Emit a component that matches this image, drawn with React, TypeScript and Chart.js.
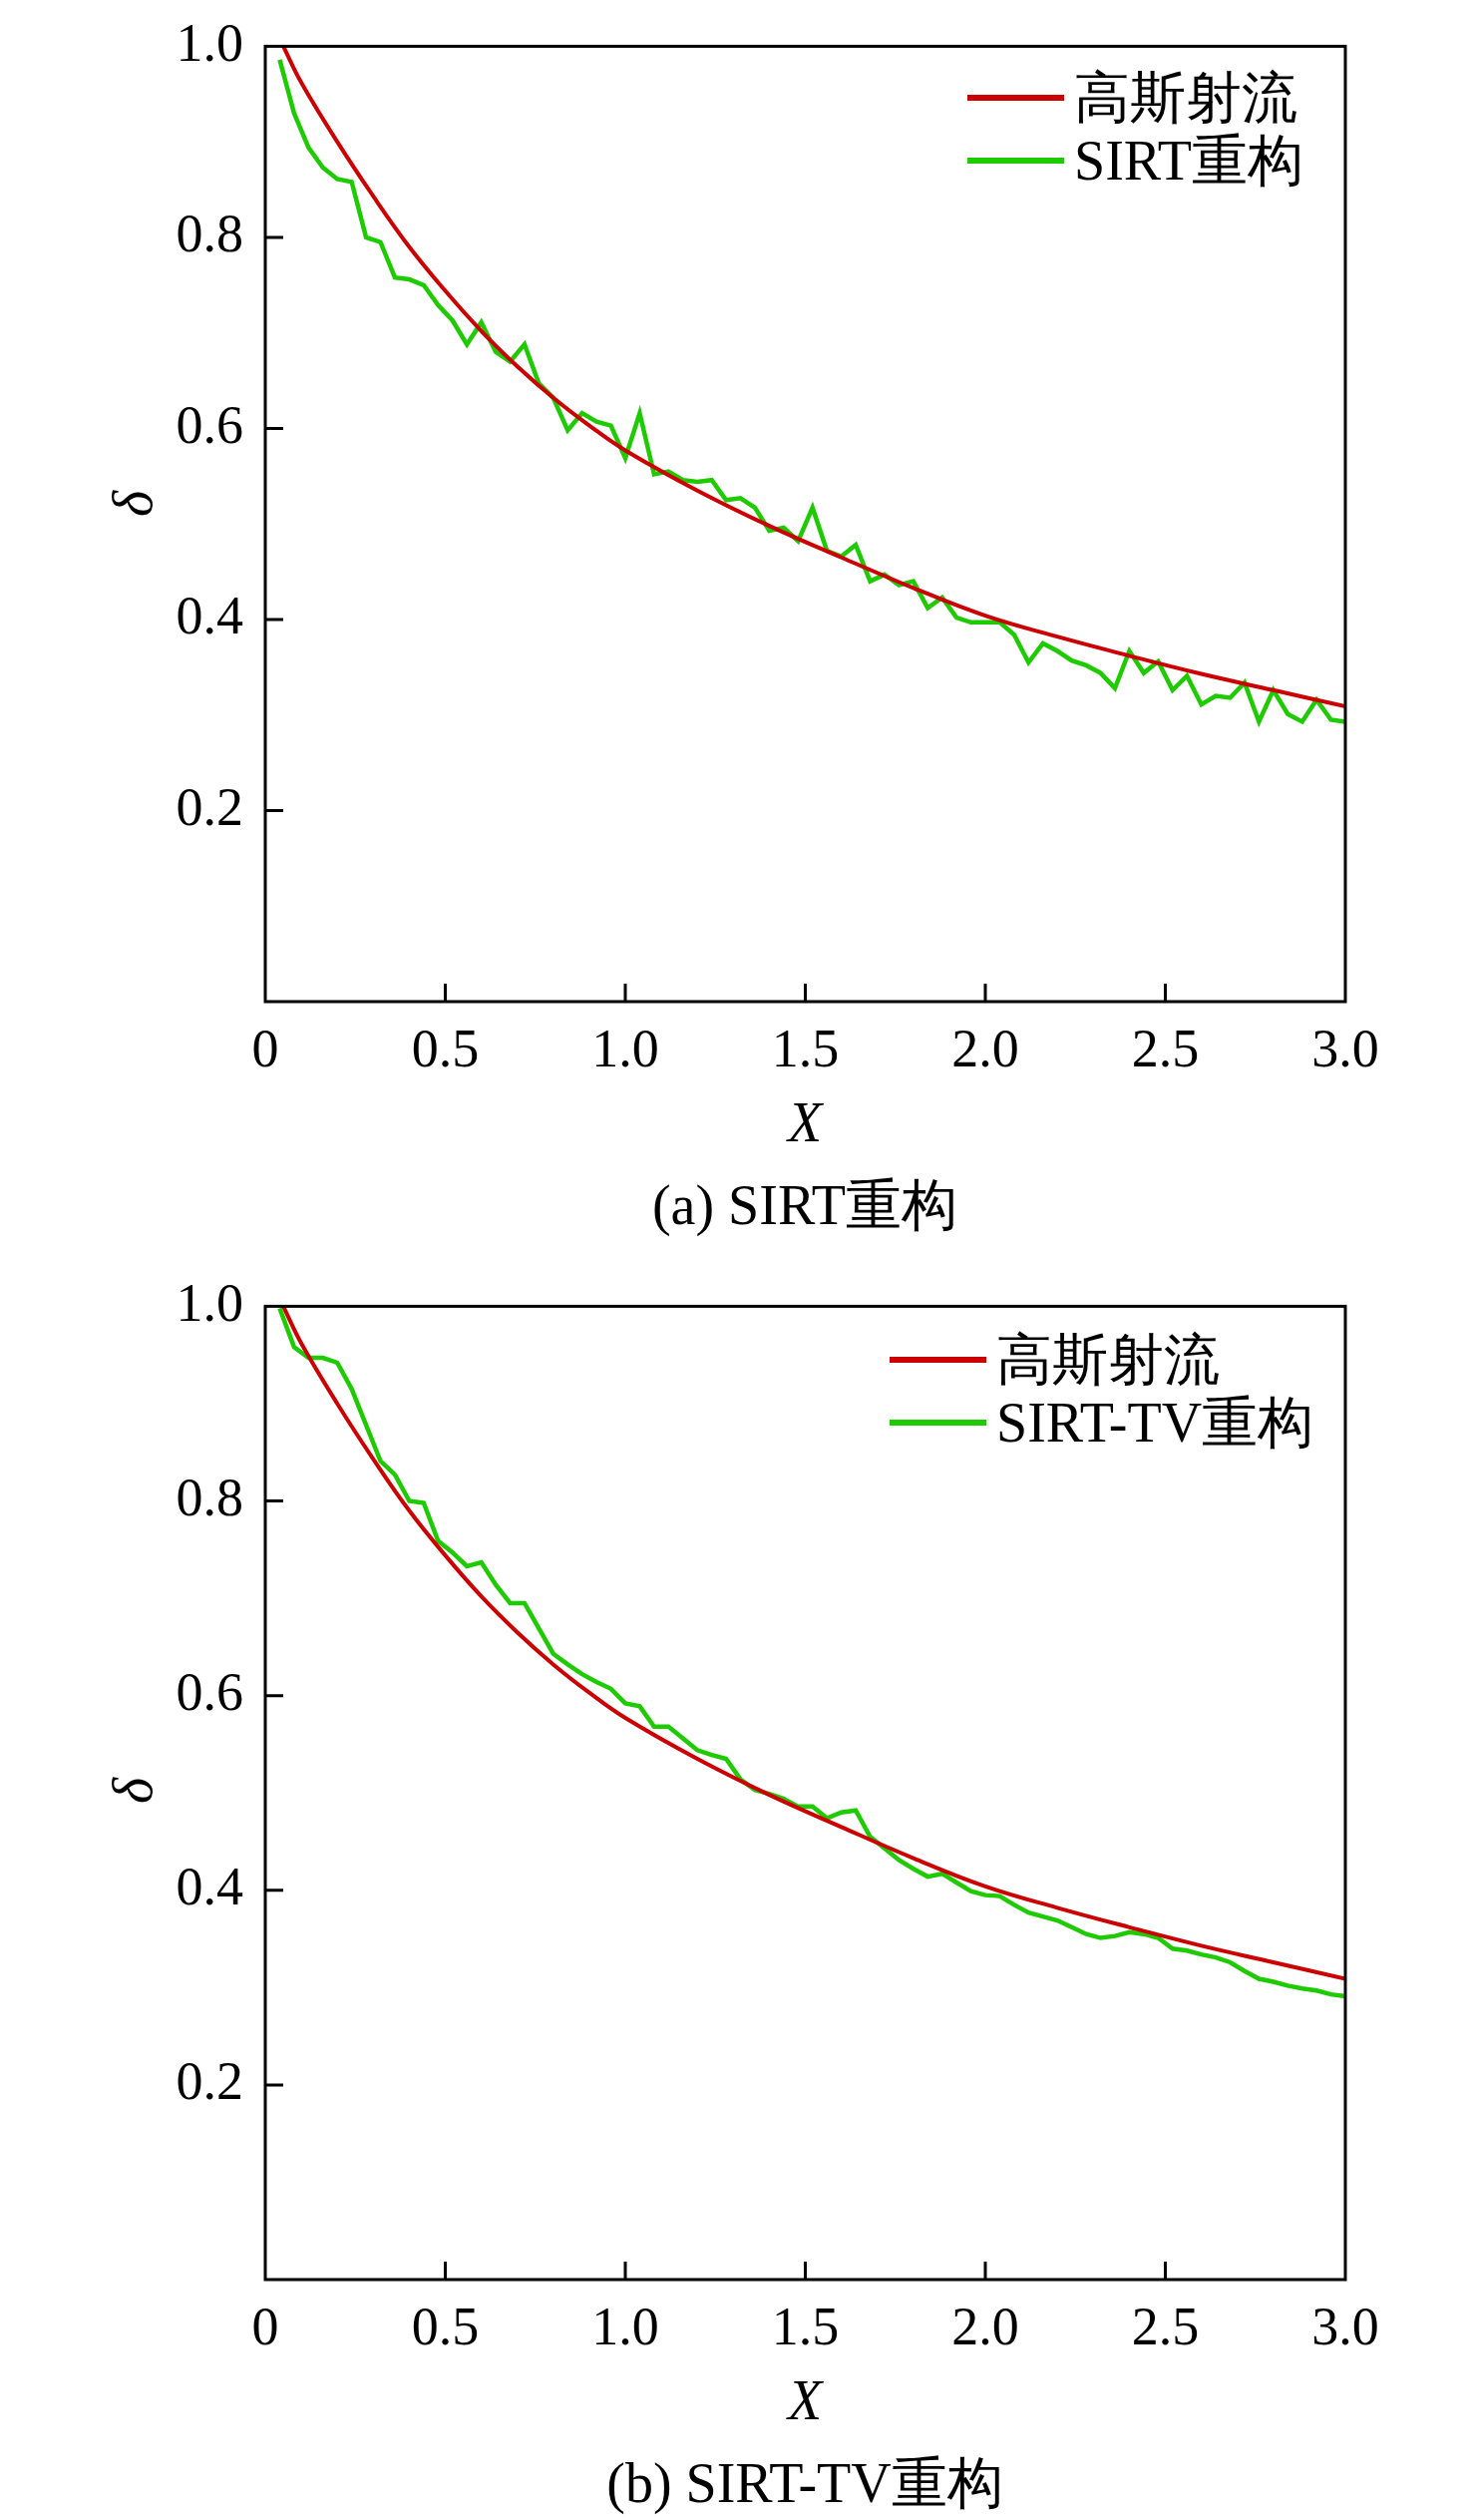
import React, { useEffect, useRef } from "react";
import { Chart, registerables } from "chart.js";
Chart.register(...registerables);

const X_GREEN = [0.04,0.08,0.12,0.16,0.2,0.24,0.28,0.32,0.36,0.4,0.44,0.48,0.52,0.56,0.6,0.64,0.68,0.72,0.76,0.8,0.84,0.88,0.92,0.96,1.0,1.04,1.08,1.12,1.16,1.2,1.24,1.28,1.32,1.36,1.4,1.44,1.48,1.52,1.56,1.6,1.64,1.68,1.72,1.76,1.8,1.84,1.88,1.92,1.96,2.0,2.04,2.08,2.12,2.16,2.2,2.24,2.28,2.32,2.36,2.4,2.44,2.48,2.52,2.56,2.6,2.64,2.68,2.72,2.76,2.8,2.84,2.88,2.92,2.96,3.0];
const SIRT = [0.986,0.93,0.894,0.873,0.861,0.858,0.8,0.795,0.758,0.756,0.75,0.729,0.713,0.688,0.711,0.68,0.67,0.688,0.647,0.632,0.598,0.616,0.607,0.603,0.569,0.616,0.552,0.555,0.546,0.544,0.546,0.525,0.527,0.517,0.493,0.496,0.482,0.517,0.472,0.466,0.478,0.44,0.447,0.436,0.44,0.412,0.423,0.402,0.397,0.397,0.397,0.384,0.355,0.375,0.367,0.357,0.352,0.344,0.328,0.367,0.344,0.356,0.326,0.341,0.311,0.32,0.318,0.334,0.293,0.326,0.301,0.293,0.316,0.295,0.293];
const SIRT_TV = [0.998,0.958,0.947,0.947,0.942,0.915,0.878,0.841,0.827,0.8,0.798,0.759,0.747,0.733,0.737,0.714,0.695,0.695,0.669,0.643,0.632,0.622,0.614,0.607,0.592,0.589,0.568,0.568,0.556,0.544,0.539,0.535,0.514,0.503,0.499,0.494,0.486,0.486,0.474,0.48,0.482,0.455,0.443,0.431,0.422,0.414,0.417,0.408,0.399,0.395,0.394,0.385,0.377,0.373,0.369,0.362,0.355,0.351,0.353,0.357,0.355,0.351,0.34,0.338,0.334,0.331,0.326,0.317,0.309,0.306,0.302,0.299,0.297,0.293,0.291];
const X_GAUSS = [0.05,0.1,0.2,0.3,0.4,0.5,0.6,0.7,0.8,0.9,1.0,1.2,1.4,1.6,1.8,2.0,2.2,2.4,2.6,2.8,3.0];
const GAUSS = [1.0,0.962,0.9,0.843,0.79,0.744,0.702,0.665,0.632,0.603,0.577,0.535,0.498,0.465,0.433,0.404,0.382,0.362,0.343,0.326,0.309];
const X_TICKS = [0, 0.5, 1.0, 1.5, 2.0, 2.5, 3.0];
const Y_TICKS = [0, 0.2, 0.4, 0.6, 0.8, 1.0];

const FONT = "'Liberation Serif', 'Times New Roman', serif";
const RED = "#cc0000";
const GREEN = "#1ecb00";

const frame = {
  id: "frame",
  afterDraw(chart: any) {
    const { ctx, chartArea: a, scales } = chart;
    ctx.save();
    ctx.strokeStyle = "#000";
    ctx.lineWidth = 3;
    ctx.strokeRect(a.left, a.top, a.right - a.left, a.bottom - a.top);
    ctx.beginPath();
    for (const v of X_TICKS) {
      if (v <= 0 || v >= 3) continue;
      const px = scales.x.getPixelForValue(v);
      ctx.moveTo(px, a.bottom);
      ctx.lineTo(px, a.bottom - 18);
    }
    for (const v of Y_TICKS) {
      if (v <= 0 || v >= 1) continue;
      const py = scales.y.getPixelForValue(v);
      ctx.moveTo(a.left, py);
      ctx.lineTo(a.left + 18, py);
    }
    ctx.stroke();
    ctx.restore();
  },
};

function Panel({ green, greenLabel, top, legendTop, caption }: { green: number[]; greenLabel: string; top: number; legendTop: number; caption: string }) {
  const ref = useRef<HTMLCanvasElement>(null);
  useEffect(() => {
    const chart = new Chart(ref.current!, {
      type: "line",
      data: {
        datasets: [
          { label: "高斯射流", data: X_GAUSS.map((x, i) => ({ x, y: GAUSS[i] })), borderColor: RED, borderWidth: 4, pointRadius: 0, tension: 0.4 },
          { label: greenLabel, data: X_GREEN.map((x, i) => ({ x, y: green[i] })), borderColor: GREEN, borderWidth: 4.5, pointRadius: 0, tension: 0 },
        ],
      },
      options: {
        animation: false,
        responsive: false,
        layout: { padding: { top, right: 127, left: 0, bottom: 0 } },
        plugins: { legend: { display: false }, tooltip: { enabled: false } },
        scales: {
          x: {
            type: "linear", min: 0, max: 3,
            afterBuildTicks: (s: any) => { s.ticks = X_TICKS.map((value) => ({ value })); },
            afterFit: (s: any) => { s.height = 1263 - 1004 - (top === 42 ? 18 : 0); },
            grid: { display: false },
            border: { display: false },
            ticks: { color: "#000", font: { family: FONT, size: 54 }, padding: 10, maxRotation: 0, callback: (v: any) => (v === 0 ? "0" : Number(v).toFixed(1)) },
          },
          y: {
            type: "linear", min: 0, max: 1,
            afterBuildTicks: (s: any) => { s.ticks = Y_TICKS.map((value) => ({ value })); },
            afterFit: (s: any) => { s.width = 266; },
            grid: { display: false },
            border: { display: false },
            ticks: { color: "#000", font: { family: FONT, size: 54 }, padding: 14, callback: (v: any) => (v === 0 ? "" : Number(v).toFixed(1)) },
          },
        },
      },
      plugins: [frame],
    });
    return () => chart.destroy();
  }, []);
  const plotBottom = top === 42 ? 1022 : 1004;
  const plotTop = top;
  const legX = greenLabel.length > 6 ? 892 : 970;
  const txt: React.CSSProperties = { position: "absolute", fontFamily: FONT, color: "#000", whiteSpace: "nowrap", lineHeight: 1 };
  return (
    <div style={{ position: "relative", width: 1476, height: 1263 }}>
      <canvas ref={ref} width={1476} height={1263} style={{ width: 1476, height: 1263, display: "block" }} />
      {[{ c: RED, t: "高斯射流", y: legendTop }, { c: GREEN, t: greenLabel, y: legendTop + 63 }].map((l, i) => (
        <div key={i} style={{ position: "absolute", left: legX, top: l.y - 30, height: 60, display: "flex", alignItems: "center" }}>
          <div style={{ width: 97, height: 6, background: l.c, marginRight: 10 }} />
          <span style={{ fontFamily: FONT, fontSize: 56, lineHeight: 1, color: "#000" }}>{l.t}</span>
        </div>
      ))}
      <div style={{ ...txt, left: 807, top: plotBottom + 121, fontSize: 56, fontStyle: "italic", transform: "translate(-50%,-50%)" }}>X</div>
      <div style={{ ...txt, left: 133, top: (plotTop + plotBottom) / 2, fontSize: 56, fontStyle: "italic", transform: "translate(-50%,-50%) rotate(-90deg)" }}>δ</div>
      <div style={{ ...txt, left: 807, top: plotBottom + 204, fontSize: 56, transform: "translate(-50%,-50%)" }}>{caption}</div>
    </div>
  );
}

export default function App() {
  return (
    <div style={{ position: "absolute", left: 0, top: 0, width: 1476, height: 2526, background: "#fff" }}>
      <Panel green={SIRT} greenLabel="SIRT重构" top={5} legendTop={98} caption="(a) SIRT重构" />
      <Panel green={SIRT_TV} greenLabel="SIRT-TV重构" top={42} legendTop={100} caption="(b) SIRT-TV重构" />
    </div>
  );
}
